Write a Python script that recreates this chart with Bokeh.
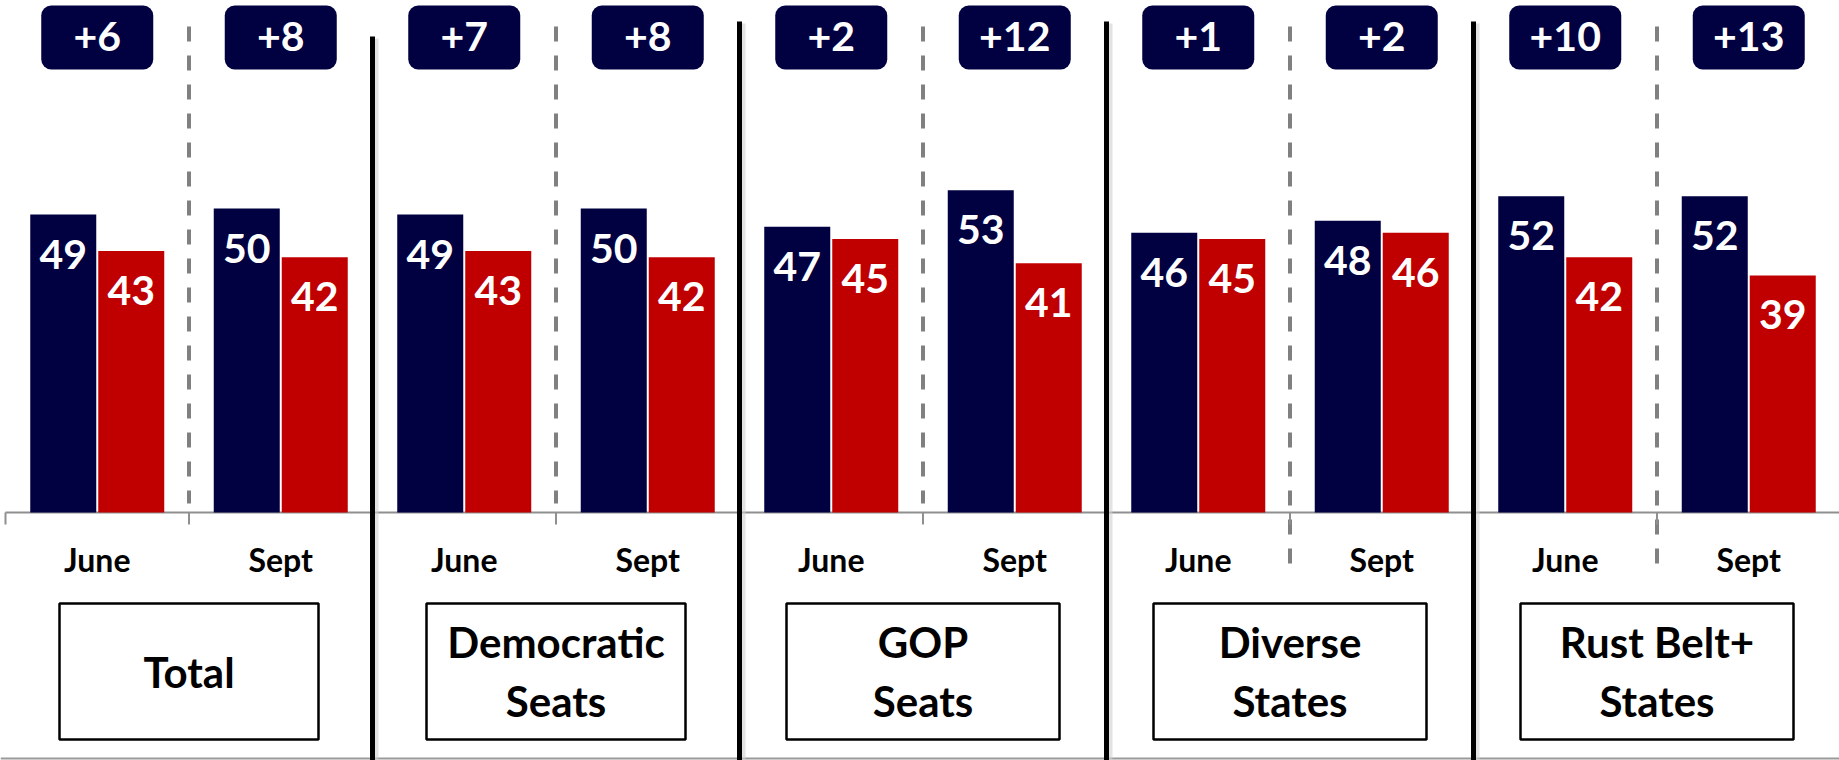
from bokeh.plotting import figure
from bokeh.models import ColumnDataSource, Range1d
from bokeh.core.properties import value
from bokeh.embed import file_html
from bokeh.resources import INLINE

# ---------------- data ----------------
group_line1 = ["Total", "Democratic", "GOP", "Diverse", "Rust Belt+"]
group_line2 = ["", "Seats", "Seats", "States", "States"]
waves = ["June", "Sept"]
dem = [49, 50, 49, 50, 47, 53, 46, 48, 52, 52]
gop = [43, 42, 43, 42, 45, 41, 45, 46, 42, 39]
margins = ["+6", "+8", "+7", "+8", "+2", "+12", "+1", "+2", "+10", "+13"]

# ---------------- layout ----------------
W, H = 1839, 760
PAGE_X0, PAGE_Y0 = 0, 0
CW = 183.5          # px per category slot
X_ORIGIN = 5        # page px of left edge of first slot
PPU = 6.08          # px per percentage point
BASE_Y = 512        # page px of zero line
TXT_SHIFT = 0.4     # baseline correction, fraction of font size

NAVY = "#010040"
RED = "#C00000"
FONT = value("Lato")


def xd(px):
    return (px - X_ORIGIN) / CW


def yd(py):
    return (BASE_Y - py) / PPU


def tb(py, fs):
    """data y for a text baseline at page py with font size fs"""
    return yd(py - TXT_SHIFT * fs)


p = figure(width=W, height=H, output_backend="svg", toolbar_location=None,
           x_range=Range1d(xd(PAGE_X0), xd(PAGE_X0 + W)),
           y_range=Range1d(yd(PAGE_Y0 + H), yd(PAGE_Y0)),
           x_axis_location=None, y_axis_location=None,
           min_border=0, outline_line_color=None, background_fill_color="white",
           border_fill_color="white")
p.xgrid.visible = False
p.ygrid.visible = False

n = len(dem)
centers = [k + 0.5 for k in range(n)]
months = [waves[k % 2] for k in range(n)]

VAL_FS = 41
src = ColumnDataSource(dict(
    cx=centers,
    xn=[c - 34 / CW for c in centers],
    xr=[c + 34 / CW for c in centers],
    dem=dem, gop=gop,
    dem_lab=[str(v) for v in dem], gop_lab=[str(v) for v in gop],
    dem_ly=[v - (56 - TXT_SHIFT * VAL_FS) / PPU for v in dem],
    gop_ly=[v - (56 - TXT_SHIFT * VAL_FS) / PPU for v in gop],
    month=months, margin=margins,
))

# separators: dashed (within group) and solid (between groups)
n_groups = len(group_line1)
dash_bottom = [503, 503, 503, 563, 563]
p.segment(x0=[2 * g + 1 for g in range(n_groups)], x1=[2 * g + 1 for g in range(n_groups)],
          y0=[yd(26)] * n_groups, y1=[yd(b) for b in dash_bottom],
          line_color="#808080", line_width=4, line_dash="15 14")

# axis line and ticks
p.segment(x0=[xd(5)], x1=[xd(1845)], y0=[0], y1=[0], line_color="#8f8f8f", line_width=2)
p.segment(x0=list(range(n + 1)), x1=list(range(n + 1)), y0=[0] * (n + 1),
          y1=[yd(524)] * (n + 1), line_color="#8f8f8f", line_width=2)

# bottom rule
p.segment(x0=[xd(0)], x1=[xd(1845)], y0=[yd(758)], y1=[yd(758)], line_color="#9a9a9a", line_width=2)

# bars
p.vbar(x="xn", top="dem", bottom=0, width=66 / CW, source=src, fill_color=NAVY, line_color=None)
p.vbar(x="xr", top="gop", bottom=0, width=66 / CW, source=src, fill_color=RED, line_color=None)

# value labels
lab = dict(text_color="white", text_font=FONT, text_font_style="bold",
           text_font_size=f"{VAL_FS}px", text_align="center", text_baseline="alphabetic")
p.text(x="xn", y="dem_ly", text="dem_lab", source=src, **lab)
p.text(x="xr", y="gop_ly", text="gop_lab", source=src, **lab)

# margin boxes
p.quad(left=[c - 56 / CW for c in centers], right=[c + 56 / CW for c in centers],
       top=yd(5), bottom=yd(69), fill_color=NAVY, line_color=None, border_radius=10)
p.text(x="cx", y=tb(52, VAL_FS), text="margin", source=src, **lab)

# month labels
MON_FS = 32
p.text(x="cx", y=tb(572, MON_FS), text="month", source=src, text_color="black",
       text_font=FONT, text_font_style="bold", text_font_size=f"{MON_FS}px",
       text_align="center", text_baseline="alphabetic")

# solid dividers between groups (with soft shadow)
div_x = [2 * g for g in range(1, n_groups)]
div_top = [36, 21, 21, 21]
p.segment(x0=[x + 4 / CW for x in div_x], x1=[x + 4 / CW for x in div_x],
          y0=[yd(t + 2) for t in div_top], y1=[yd(760)] * len(div_x),
          line_color="#d0d0d0", line_width=4, line_alpha=0.6)
p.segment(x0=div_x, x1=div_x, y0=[yd(t) for t in div_top], y1=[yd(760)] * len(div_x),
          line_color="black", line_width=5)

# group label boxes
gc = [2 * g + 1 for g in range(n_groups)]
box_w = [259, 259, 273, 273, 273]
p.quad(left=[c - w / 2 / CW for c, w in zip(gc, box_w)],
       right=[c + w / 2 / CW for c, w in zip(gc, box_w)],
       top=yd(603), bottom=yd(739), fill_color="white", line_color="black", line_width=2.5)

GRP_FS = 42
one_x, one_t, two_x, two_a, two_b = [], [], [], [], []
for c, a, b in zip(gc, group_line1, group_line2):
    if b:
        two_x.append(c); two_a.append(a); two_b.append(b)
    else:
        one_x.append(c); one_t.append(a)
common = dict(text_color="black", text_font=FONT, text_font_style="bold",
              text_font_size=f"{GRP_FS}px", text_align="center", text_baseline="alphabetic")
p.text(x=one_x, y=[tb(688, GRP_FS)] * len(one_x), text=one_t, **common)
p.text(x=two_x, y=[tb(658, GRP_FS)] * len(two_x), text=two_a, **common)
p.text(x=two_x, y=[tb(717, GRP_FS)] * len(two_x), text=two_b, **common)

open("out.html", "w").write(file_html(p, INLINE))
